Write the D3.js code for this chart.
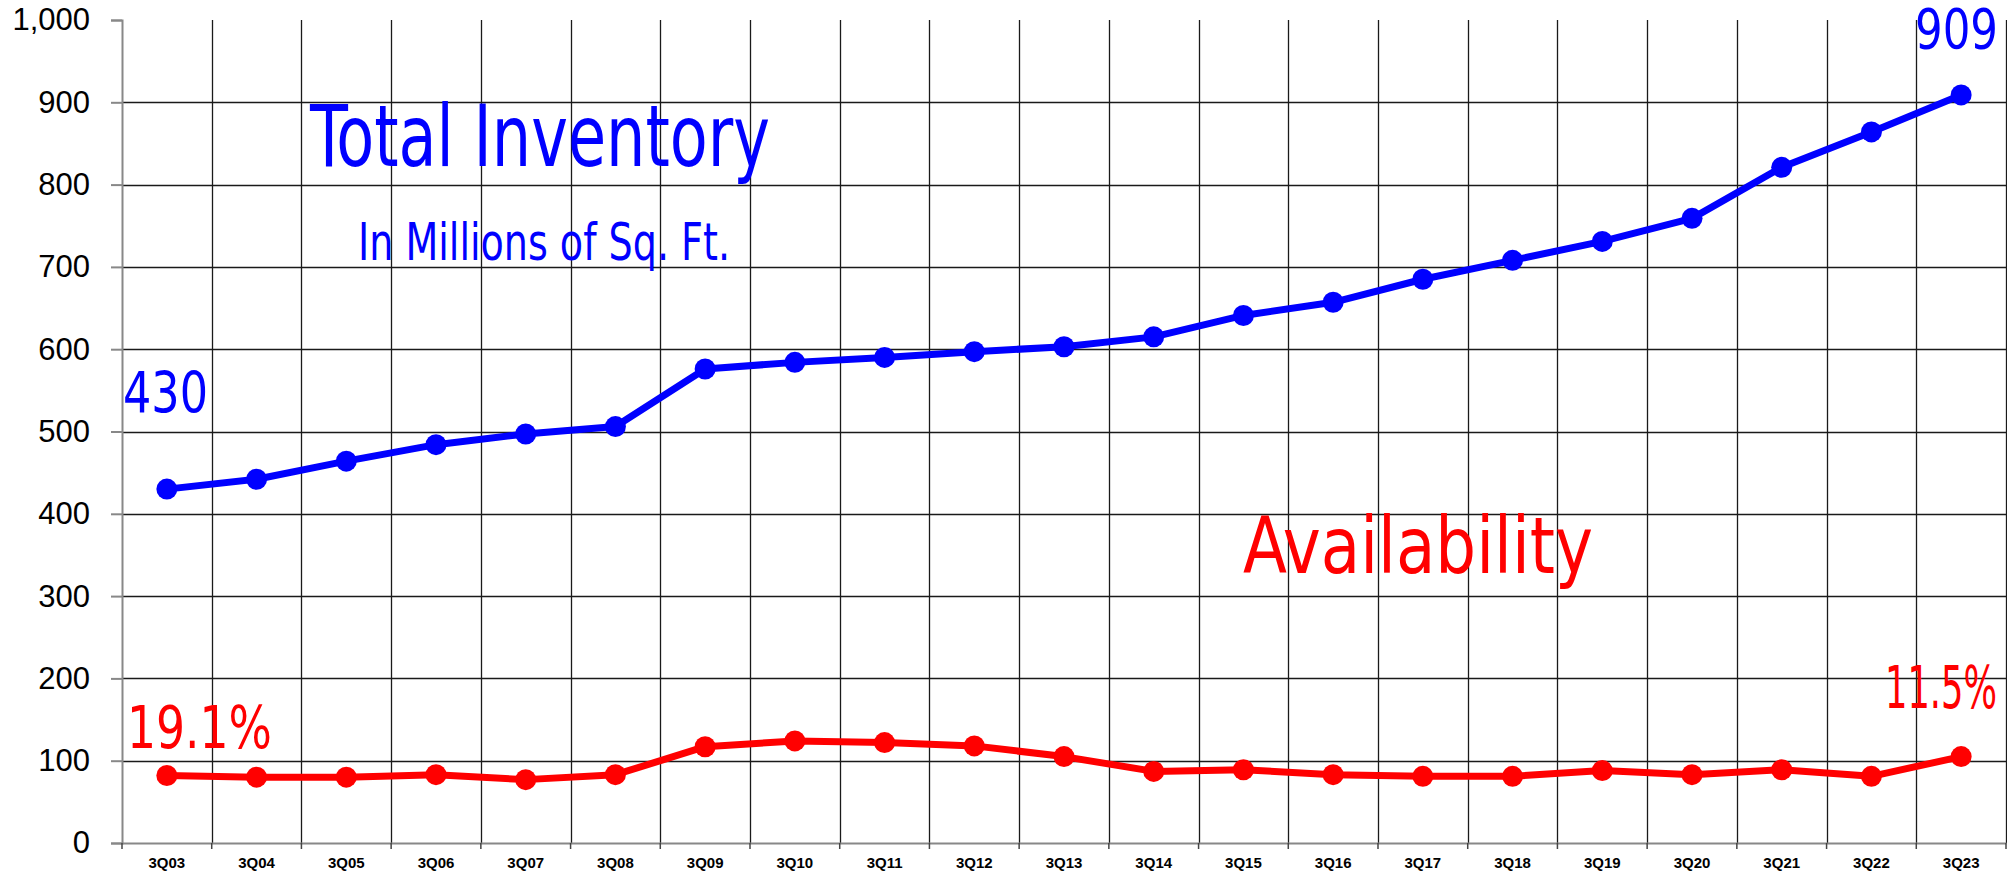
<!DOCTYPE html>
<html>
<head>
<meta charset="utf-8">
<script src="https://cdn.jsdelivr.net/npm/d3@7"></script>
<style>
  body { margin: 0; background: #fff; }
  svg { display: block; }
  .ann { font-family: "Liberation Sans Narrow", "DejaVu Sans Condensed", "Liberation Sans", sans-serif; }
</style>
</head>
<body>
<svg></svg>
<script>
// quarters
var quarters = ["3Q03","3Q04","3Q05","3Q06","3Q07","3Q08","3Q09","3Q10","3Q11","3Q12","3Q13",
                "3Q14","3Q15","3Q16","3Q17","3Q18","3Q19","3Q20","3Q21","3Q22","3Q23"]
// total inventory, millions of sq ft
var inventory = [430,442,464,484,497,506,576,584,590,597,603,615,641,657,685,708,731,759,821,864,909]
// available space, millions of sq ft
var available = [82,80,80,83,77,83,117,124,122,118,105,87,89,83,81,81,88,83,89,81,105]
var yTicks = [0,100,200,300,400,500,600,700,800,900,1000]

var width = 2007
var height = 874
var plotLeft = 122, plotRight = 2006, plotTop = 20, plotBottom = 843

var svg = d3.select("svg")
    .attr("width", width)
    .attr("height", height)

var x = d3.scaleBand()
    .domain(quarters)
    .range([plotLeft, plotRight])

var y = d3.scaleLinear()
    .domain([0, 1000])
    .range([plotBottom, plotTop])

//grid
svg.append("g")
  .selectAll("line")
  .data(yTicks.filter(d=> d > 0 && d < 1000))
  .enter()
    .append("line")
    .attr("x1", plotLeft)
    .attr("x2", plotRight)
    .attr("y1", d=> Math.round(y(d)) + 0.5)
    .attr("y2", d=> Math.round(y(d)) + 0.5)
    .attr("stroke", "#1a1a1a")
    .attr("stroke-width", 1.3)

svg.append("g")
  .selectAll("line")
  .data(quarters)
  .enter()
    .append("line")
    .attr("x1", d=> Math.round(x(d) + x.bandwidth()) + 0.5)
    .attr("x2", d=> Math.round(x(d) + x.bandwidth()) + 0.5)
    .attr("y1", plotTop)
    .attr("y2", plotBottom)
    .attr("stroke", "#1a1a1a")
    .attr("stroke-width", 1.3)

//y axis
var yAxis = svg.append("g")
    .attr("transform", `translate(${plotLeft},0)`)
    .call(d3.axisLeft(y).tickValues(yTicks).tickSize(11).tickPadding(21).tickFormat(d3.format(",")))
yAxis.select(".domain").attr("stroke", "#888").attr("stroke-width", 2)
yAxis.selectAll(".tick line").attr("stroke", "#888").attr("stroke-width", 2)
yAxis.selectAll("text")
    .attr("fill", "#000")
    .style("font-family", "'Liberation Sans', Arial, sans-serif")
    .style("font-size", "31px")

//x axis
var xAxis = svg.append("g")
    .attr("transform", `translate(0,${plotBottom})`)
    .call(d3.axisBottom(x).tickSize(0).tickPadding(14))
xAxis.select(".domain").attr("stroke", "#888").attr("stroke-width", 2)
xAxis.selectAll("text")
    .attr("fill", "#000")
    .style("font-family", "'Liberation Sans', Arial, sans-serif")
    .style("font-size", "15px")
    .style("font-weight", "bold")
svg.append("g")
  .selectAll("line")
  .data([quarters[0]].concat(quarters))
  .enter()
    .append("line")
    .attr("x1", (d, i)=> i == 0 ? plotLeft : x(d) + x.bandwidth())
    .attr("x2", (d, i)=> i == 0 ? plotLeft : x(d) + x.bandwidth())
    .attr("y1", plotBottom)
    .attr("y2", plotBottom + 6)
    .attr("stroke", "#444")
    .attr("stroke-width", 1.5)

//lines
var cx = d=> x(d) + x.bandwidth()/2
function drawSeries(values, color){
  var line = d3.line()
      .x((d, i)=> cx(quarters[i]))
      .y(d=> y(d))
  svg.append("path")
      .datum(values)
      .attr("d", line)
      .attr("fill", "none")
      .attr("stroke", color)
      .attr("stroke-width", 7)
      .attr("stroke-linejoin", "round")
  svg.append("g")
    .selectAll("circle")
    .data(values)
    .enter()
      .append("circle")
      .attr("cx", (d, i)=> cx(quarters[i]))
      .attr("cy", d=> y(d))
      .attr("r", 10.5)
      .attr("fill", color)
}
drawSeries(inventory, "#0000ff")
drawSeries(available, "#ff0000")

//annotations
function note(txt, xx, yy, size, len, color){
  svg.append("text")
      .classed("ann", true)
      .attr("x", xx)
      .attr("y", yy)
      .attr("textLength", len)
      .attr("lengthAdjust", "spacingAndGlyphs")
      .style("font-size", size + "px")
      .attr("fill", color)
      .text(txt)
}
note("Total  Inventory", 310, 166, 85, 460, "#0000ff")
note("In Millions of Sq. Ft.", 358, 260, 52, 372, "#0000ff")
note("Availability", 1243, 573, 78, 350, "#ff0000")
note(inventory[0], 123, 413, 57, 85, "#0000ff")
note(inventory[inventory.length-1], 1915, 48, 56, 83, "#0000ff")
note("19.1%", 127, 748, 58, 145, "#ff0000")
note("11.5%", 1885, 708, 58, 112, "#ff0000")
</script>
</body>
</html>
